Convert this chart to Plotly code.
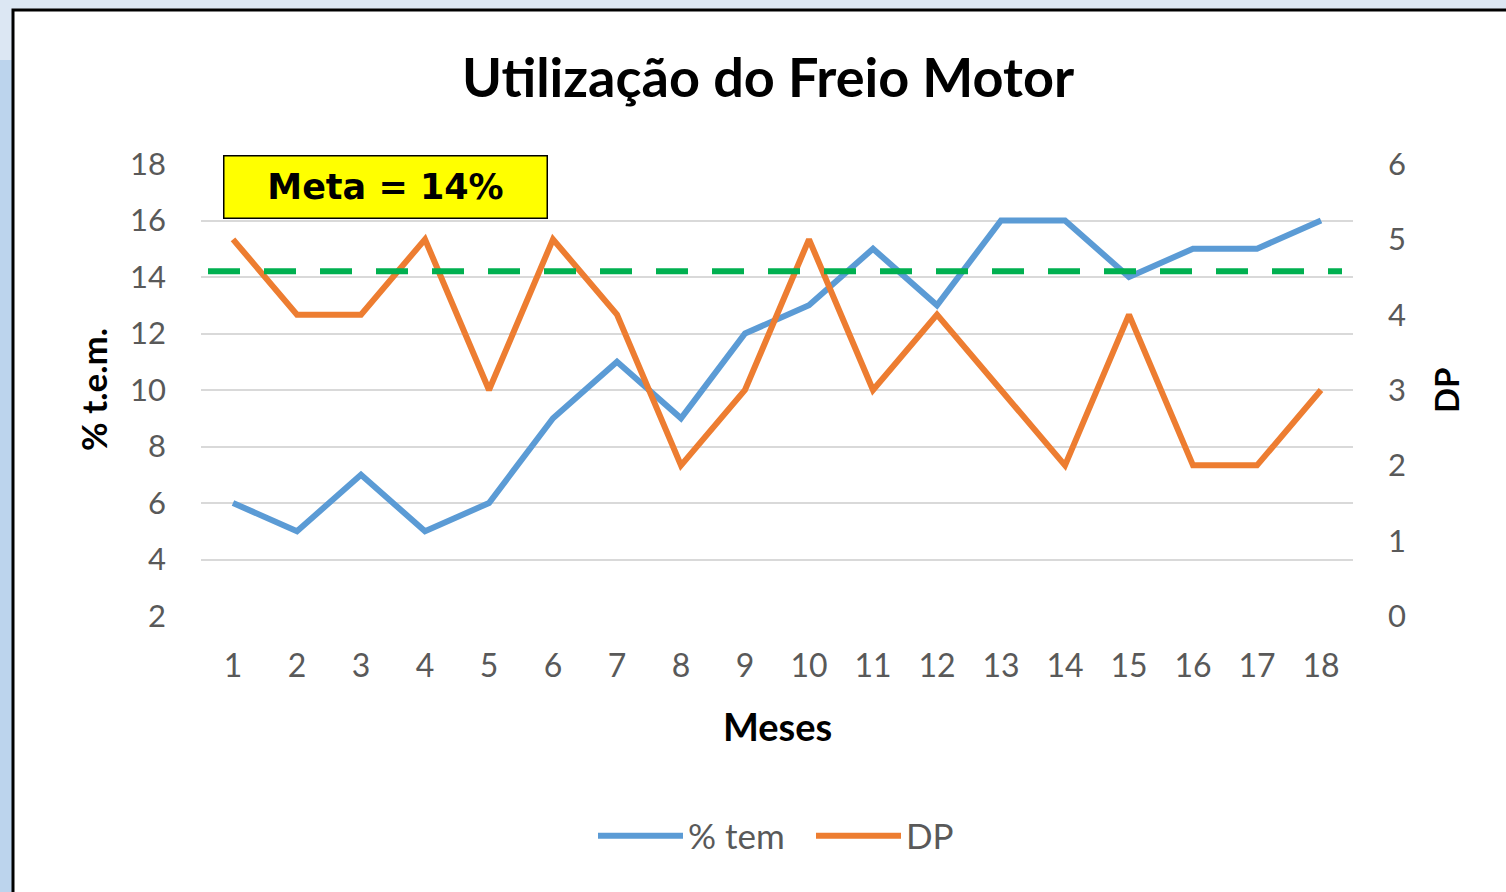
import plotly.graph_objects as go

meses = list(range(1, 19))
pct_tem = [6, 5, 7, 5, 6, 9, 11, 9, 12, 13, 15, 13, 16, 16, 14, 15, 15, 16]
dp = [5, 4, 4, 5, 3, 5, 4, 2, 3, 5, 3, 4, 3, 2, 4, 2, 2, 3]
meta = 14.2
left_ticks = [2, 4, 6, 8, 10, 12, 14, 16, 18]
right_ticks = [0, 1, 2, 3, 4, 5, 6]

W, H = 1506, 892
L, R, T, B = 201, 153, 164, 276
PW, PH = W - L - R, H - T - B


def px(x):
    return (x - L) / PW


def py(y):
    return (H - B - y) / PH


BLUE = "#5b9bd5"
ORANGE = "#ed7d31"
GRAY = "#595959"
FONT = "Lato"

fig = go.Figure()
fig.add_trace(go.Scatter(x=meses, y=pct_tem, mode="lines", name="% tem",
                         line=dict(color=BLUE, width=6), yaxis="y"))
fig.add_trace(go.Scatter(x=meses, y=dp, mode="lines", name="DP",
                         line=dict(color=ORANGE, width=6), yaxis="y2"))

shapes = [
    # left blue strip
    dict(type="rect", xref="paper", yref="paper", x0=px(-10), x1=px(12), y0=py(60), y1=py(900),
         fillcolor="#bcd4ed", line=dict(width=0), layer="below"),
    # white chart frame
    dict(type="rect", xref="paper", yref="paper", x0=px(13), x1=px(1530), y0=py(10), y1=py(910),
         fillcolor="white", line=dict(color="black", width=3), layer="below"),
    # meta dashed line
    dict(type="line", xref="paper", yref="y", x0=px(208), x1=px(1342), y0=meta, y1=meta,
         line=dict(color="#00b050", width=6, dash="32px,24px"), layer="above"),
]

annotations = [
    dict(text="<b>Meta = 14%</b>", xref="paper", yref="paper", x=px(385.5), y=py(187),
         xanchor="center", yanchor="middle", showarrow=False,
         font=dict(family="DejaVu Sans", size=35, color="black"),
         bgcolor="#ffff00", bordercolor="black", borderwidth=1.5, borderpad=0,
         width=322, height=61),
    dict(text="<b>% t.e.m.</b>", xref="paper", yref="paper", x=px(93), y=py(390),
         xanchor="center", yanchor="middle", showarrow=False, textangle=-90,
         font=dict(family=FONT, size=35, color="black")),
    dict(text="<b>DP</b>", xref="paper", yref="paper", x=px(1446), y=py(390),
         xanchor="center", yanchor="middle", showarrow=False, textangle=-90,
         font=dict(family=FONT, size=33, color="black")),
    dict(text="<b>Meses</b>", xref="paper", yref="paper", x=px(777), y=py(726),
         xanchor="center", yanchor="middle", showarrow=False,
         font=dict(family=FONT, size=38, color="black")),
]

fig.update_layout(
    width=W, height=H,
    margin=dict(l=L, r=R, t=T, b=B),
    paper_bgcolor="#dce7f3",
    plot_bgcolor="rgba(0,0,0,0)",
    title=dict(text="<b>Utilização do Freio Motor</b>", x=768 / W, y=1 - 78 / H,
               xanchor="center", yanchor="middle", xref="container", yref="container",
               font=dict(family=FONT, size=54, color="black")),
    xaxis=dict(range=[0.5, 18.5], tickvals=meses, showgrid=False, zeroline=False,
               showline=False, ticks="", ticklabelstandoff=28,
               tickfont=dict(family=FONT, size=32, color=GRAY)),
    yaxis=dict(range=[2, 18], tickvals=left_ticks, showgrid=True, gridcolor="#d9d9d9",
               gridwidth=2, zeroline=False, showline=False, ticks="", ticklabelstandoff=34,
               tickfont=dict(family=FONT, size=31, color=GRAY)),
    yaxis2=dict(range=[0, 6], tickvals=right_ticks, overlaying="y", side="right",
                showgrid=False, zeroline=False, showline=False, ticks="", ticklabelstandoff=34,
                tickfont=dict(family=FONT, size=31, color=GRAY)),
    legend=dict(orientation="h", x=px(811), y=py(836), xanchor="center", yanchor="middle",
                font=dict(family=FONT, size=35, color=GRAY), itemwidth=85,
                entrywidth=118, entrywidthmode="pixels",
                bgcolor="rgba(0,0,0,0)"),
    shapes=shapes,
    annotations=annotations,
    showlegend=True,
)

fig.write_html("out.html", config={"displayModeBar": False},
               post_script="document.body.style.margin='0px';")
